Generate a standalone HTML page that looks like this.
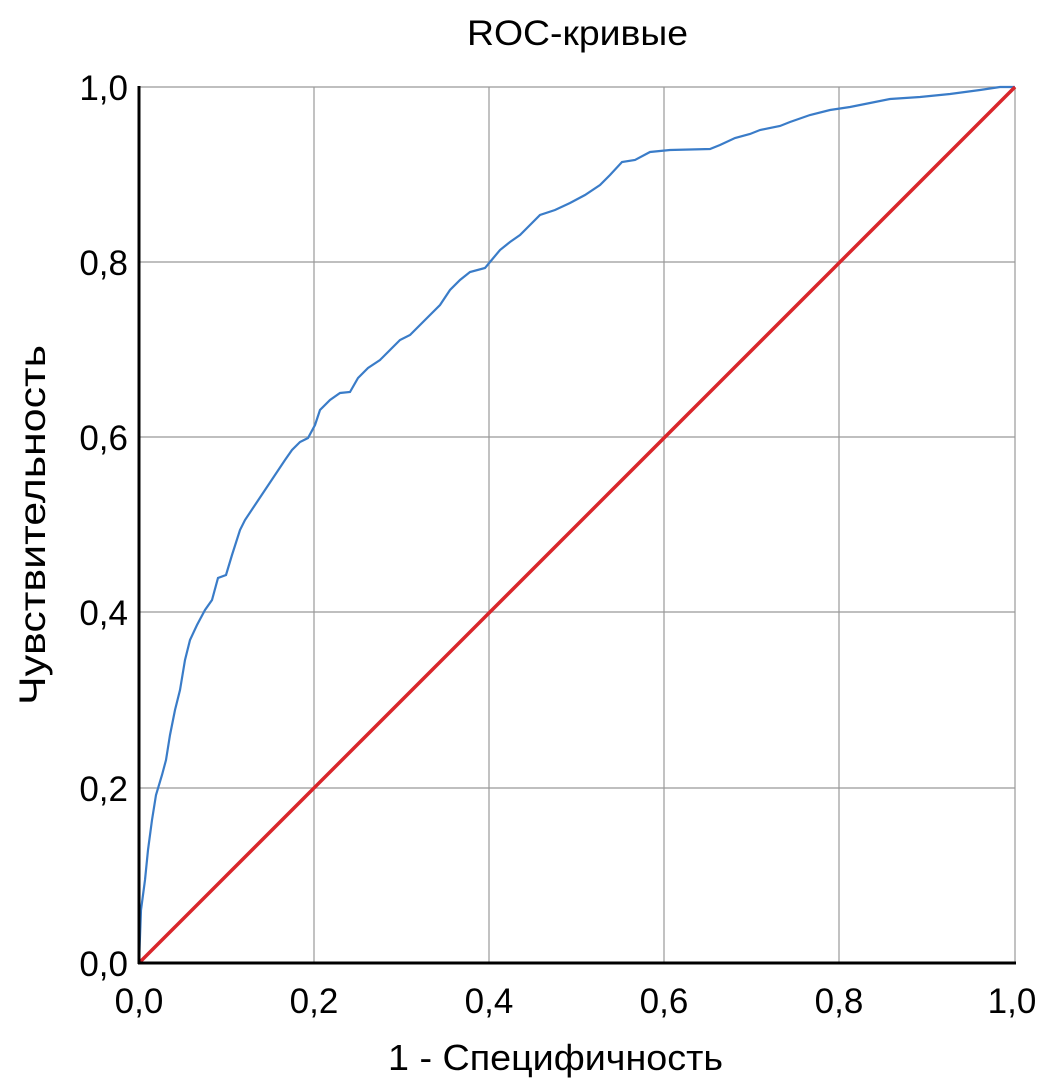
<!DOCTYPE html>
<html><head><meta charset="utf-8"><style>
body{margin:0;background:#fff;}
svg text{font-family:"Liberation Sans","DejaVu Sans",sans-serif;fill:#000;}
</style></head><body>
<svg width="1046" height="1087" viewBox="0 0 1046 1087" xmlns="http://www.w3.org/2000/svg">
<rect width="1046" height="1087" fill="#fff"/>
<g stroke="#999" stroke-width="1.2">
<line x1="314" y1="87" x2="314" y2="963"/><line x1="489" y1="87" x2="489" y2="963"/>
<line x1="664" y1="87" x2="664" y2="963"/><line x1="839" y1="87" x2="839" y2="963"/>
<line x1="1015" y1="87" x2="1015" y2="963"/>
<line x1="139" y1="87" x2="1015" y2="87"/><line x1="139" y1="262" x2="1015" y2="262"/>
<line x1="139" y1="437" x2="1015" y2="437"/><line x1="139" y1="612" x2="1015" y2="612"/>
<line x1="139" y1="788" x2="1015" y2="788"/>
</g>
<polyline fill="none" stroke="#3a7cc8" stroke-width="2.2" points="139,963 141,910 145,880 148,850 152,820 156,795 162,775 166,760 170,735 175,710 180,690 185,660 190,640 197,625 205,610 212,600 218,578 226,575 232,555 240,530 245,520 255,505 265,490 275,475 285,460 292,450 300,442 308,438 315,425 320,410 330,400 340,393 350,392 358,378 368,368 380,360 390,350 400,340 410,335 420,325 430,315 440,305 450,290 460,280 470,272 485,268 490,262 500,250 510,242 520,235 530,225 540,215 555,210 570,203 585,195 600,185 610,175 622,162 635,160 650,152 670,150 710,149 720,145 735,138 750,134 760,130 780,126 790,122 810,115 830,110 850,107 870,103 890,99 920,97 950,94 980,90 1000,87 1015,87"/>
<line x1="139" y1="963" x2="1015" y2="87" stroke="#d9262b" stroke-width="3.5"/>
<line x1="139" y1="86" x2="139" y2="964" stroke="#000" stroke-width="3"/>
<line x1="138" y1="963" x2="1016" y2="963" stroke="#000" stroke-width="3"/>
<g font-size="35" text-anchor="end">
<text x="128" y="976">0,0</text><text x="128" y="801">0,2</text><text x="128" y="625">0,4</text>
<text x="128" y="450">0,6</text><text x="128" y="275">0,8</text><text x="128" y="100">1,0</text>
</g>
<g font-size="35" text-anchor="middle">
<text x="139" y="1013">0,0</text><text x="314" y="1013">0,2</text><text x="489" y="1013">0,4</text>
<text x="664" y="1013">0,6</text><text x="839" y="1013">0,8</text><text x="1012" y="1013">1,0</text>
</g>
<text x="467" y="45" font-size="35" textLength="221" lengthAdjust="spacingAndGlyphs">ROC-кривые</text>
<text x="388" y="1070" font-size="36" textLength="335" lengthAdjust="spacingAndGlyphs">1 - Специфичность</text>
<text transform="translate(45,705) rotate(-90)" font-size="37" textLength="360" lengthAdjust="spacingAndGlyphs">Чувствительность</text>
</svg>
</body></html>
